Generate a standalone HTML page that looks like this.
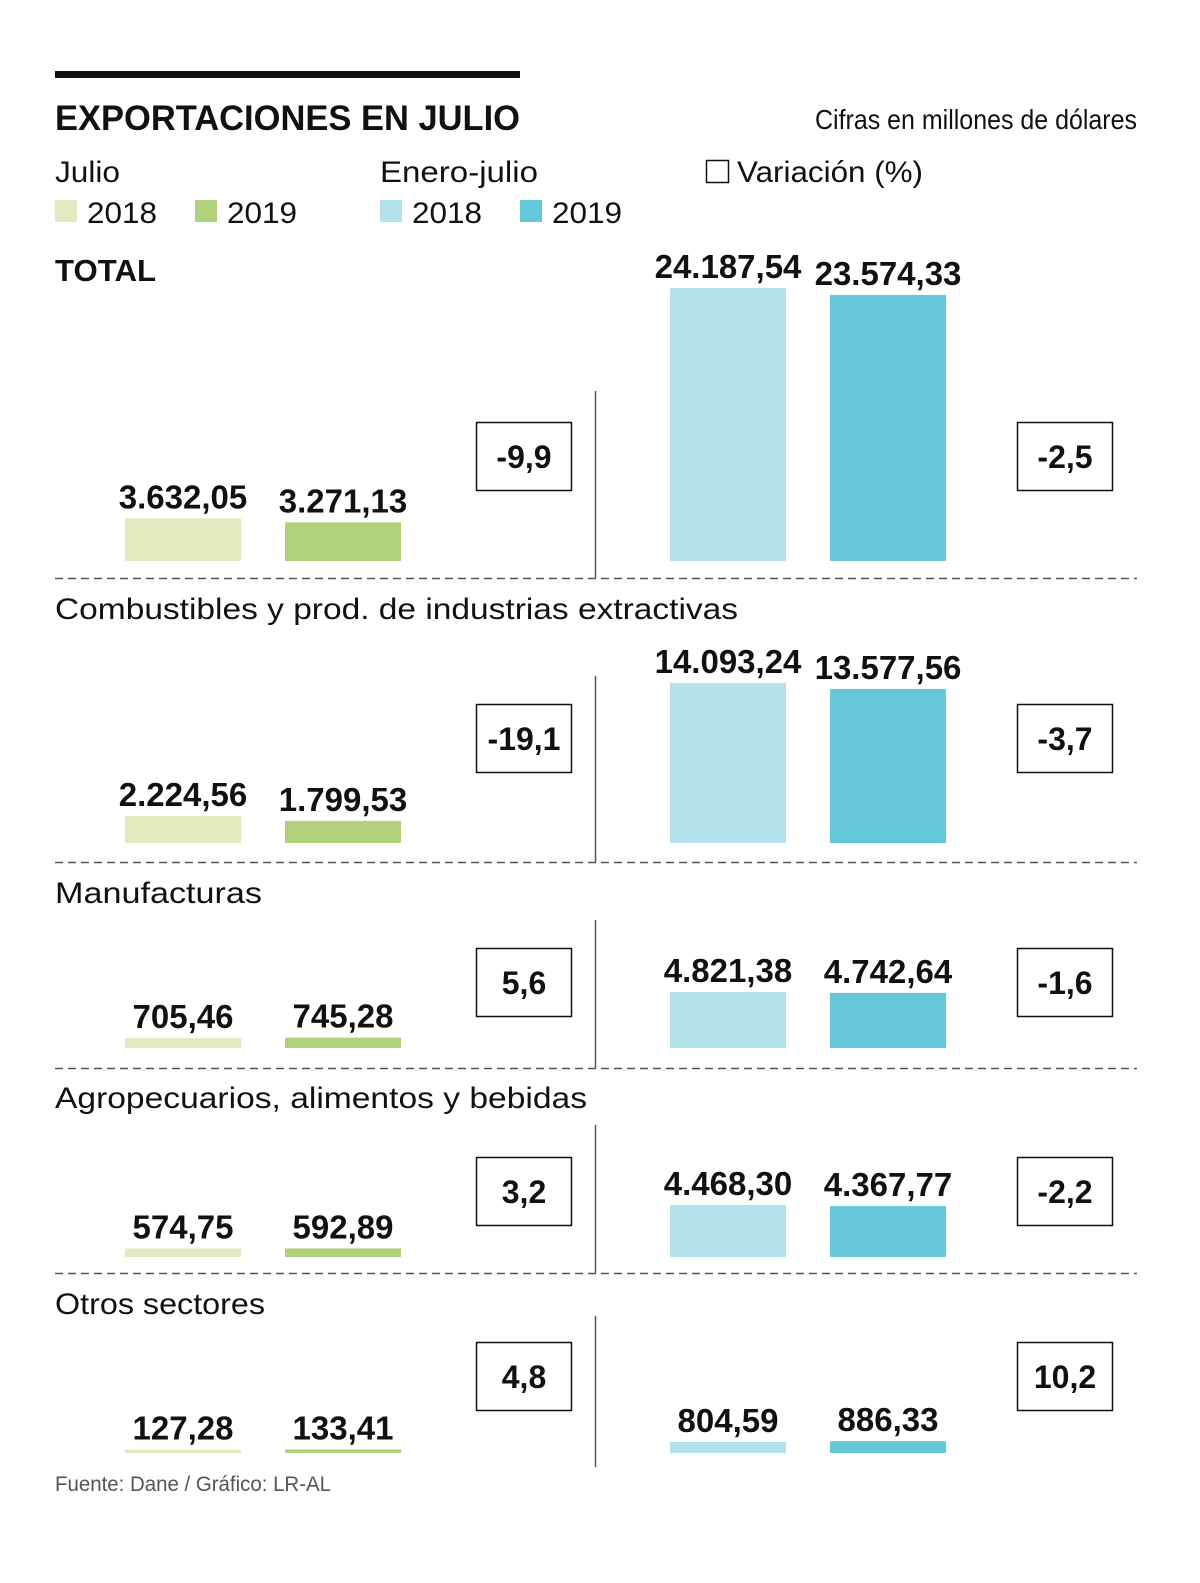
<!DOCTYPE html>
<html><head><meta charset="utf-8"><style>
html,body{margin:0;padding:0;background:#fff;}
svg{display:block;font-family:"Liberation Sans",sans-serif;}
</style></head><body>
<svg id="c" width="1200" height="1583" viewBox="0 0 1200 1583">
<rect x="55" y="71" width="465" height="7" fill="#111"/>
<text x="55" y="130" font-size="35" font-weight="bold" textLength="465" lengthAdjust="spacingAndGlyphs" fill="#111">EXPORTACIONES EN JULIO</text>
<text x="1137" y="129" font-size="28" text-anchor="end" textLength="322" lengthAdjust="spacingAndGlyphs" fill="#111">Cifras en millones de dólares</text>
<text x="55" y="182" font-size="30" textLength="65" lengthAdjust="spacingAndGlyphs" fill="#111">Julio</text>
<text x="380" y="182" font-size="30" textLength="158" lengthAdjust="spacingAndGlyphs" fill="#111">Enero-julio</text>
<rect x="706.5" y="160.5" width="22" height="22" fill="none" stroke="#111" stroke-width="1.5"/>
<text x="737" y="182" font-size="30" textLength="186" lengthAdjust="spacingAndGlyphs" fill="#111">Variación (%)</text>
<g>
<rect x="55" y="200" width="22" height="22" fill="#e2ebbf"/>
<text x="87" y="223" font-size="30" textLength="70" lengthAdjust="spacingAndGlyphs" fill="#111">2018</text>
<rect x="195" y="200" width="22" height="22" fill="#b0d27d"/>
<text x="227" y="223" font-size="30" textLength="70" lengthAdjust="spacingAndGlyphs" fill="#111">2019</text>
<rect x="380" y="200" width="22" height="22" fill="#b3e1ec"/>
<text x="412" y="223" font-size="30" textLength="70" lengthAdjust="spacingAndGlyphs" fill="#111">2018</text>
<rect x="520" y="200" width="22" height="22" fill="#64c7da"/>
<text x="552" y="223" font-size="30" textLength="70" lengthAdjust="spacingAndGlyphs" fill="#111">2019</text>
</g>
<text x="55" y="1491" font-size="21" fill="#555" textLength="276" lengthAdjust="spacingAndGlyphs">Fuente: Dane / Gráfico: LR-AL</text>
</svg>
<script>
const categories = ["TOTAL","Combustibles y prod. de industrias extractivas","Manufacturas","Agropecuarios, alimentos y bebidas","Otros sectores"];
const julio2018 = [3632.05,2224.56,705.46,574.75,127.28];
const julio2019 = [3271.13,1799.53,745.28,592.89,133.41];
const ej2018 = [24187.54,14093.24,4821.38,4468.30,804.59];
const ej2019 = [23574.33,13577.56,4742.64,4367.77,886.33];
const varJulio = ["-9,9","-19,1","5,6","3,2","4,8"];
const varEJ = ["-2,5","-3,7","-1,6","-2,2","10,2"];

const labelW=[101,683,207,532,210];
const bases=[561,843,1048,1257,1453];
const labelY=[281,619,903,1108,1314];
const vTop=[391,676,920,1125,1316];
const vBot=[578,862,1068,1273,1467];
const boxTop=[422,704,948,1157,1342];
function h(v){return v*0.0112+2;}
function fmt(v){let p=v.toFixed(2).split('.');return p[0].replace(/\B(?=(\d{3})+(?!\d))/g,'.')+','+p[1];}
const svg=document.getElementById('c');const NS='http://www.w3.org/2000/svg';
function mk(t,a,txt){const e=document.createElementNS(NS,t);for(const k in a)e.setAttribute(k,a[k]);if(txt!==undefined)e.textContent=txt;svg.appendChild(e);return e;}
categories.forEach((cat,i)=>{
  const b=bases[i];
  const lab=mk('text',{x:55,y:labelY[i],'font-size':i===0?31:30,'font-weight':i===0?'bold':'normal',fill:'#111',textLength:labelW[i],lengthAdjust:'spacingAndGlyphs'},cat);
  
  
  const vl=mk('line',{x1:595.5,x2:595.5,y1:vTop[i],y2:vBot[i],stroke:'#555','stroke-width':1.5});
  
  
  if(i<4){const dl=mk('line',{x1:55,x2:1137,y1:vBot[i]+0.5,y2:vBot[i]+0.5,stroke:'#555','stroke-width':1.5,'stroke-dasharray':'8,5'});
  
  }
  const sets=[[julio2018,125,'#e2ebbf'],[julio2019,285,'#b0d27d'],[ej2018,670,'#b3e1ec'],[ej2019,830,'#64c7da']];
  sets.forEach(([arr,x,col],j)=>{
    const hh=h(arr[i]);
    const r=mk('rect',{x:x,y:b-hh,width:116,height:hh,fill:col});
    
    
    const t=mk('text',{x:x+58,y:b-hh-10,'font-size':33,'font-weight':'bold','text-anchor':'middle',fill:'#111'},fmt(arr[i]));
    
    
  });
  [[varJulio,476],[varEJ,1017]].forEach(([arr,x])=>{
    const r=mk('rect',{x:x+0.5,y:boxTop[i]+0.5,width:95,height:68,fill:'#fff',stroke:'#111','stroke-width':1.5});
    
    
    const t=mk('text',{x:x+48,y:boxTop[i]+46,'font-size':32,'font-weight':'bold','text-anchor':'middle',fill:'#111'},arr[i]);
    
    
  });
});
</script>
</body></html>
